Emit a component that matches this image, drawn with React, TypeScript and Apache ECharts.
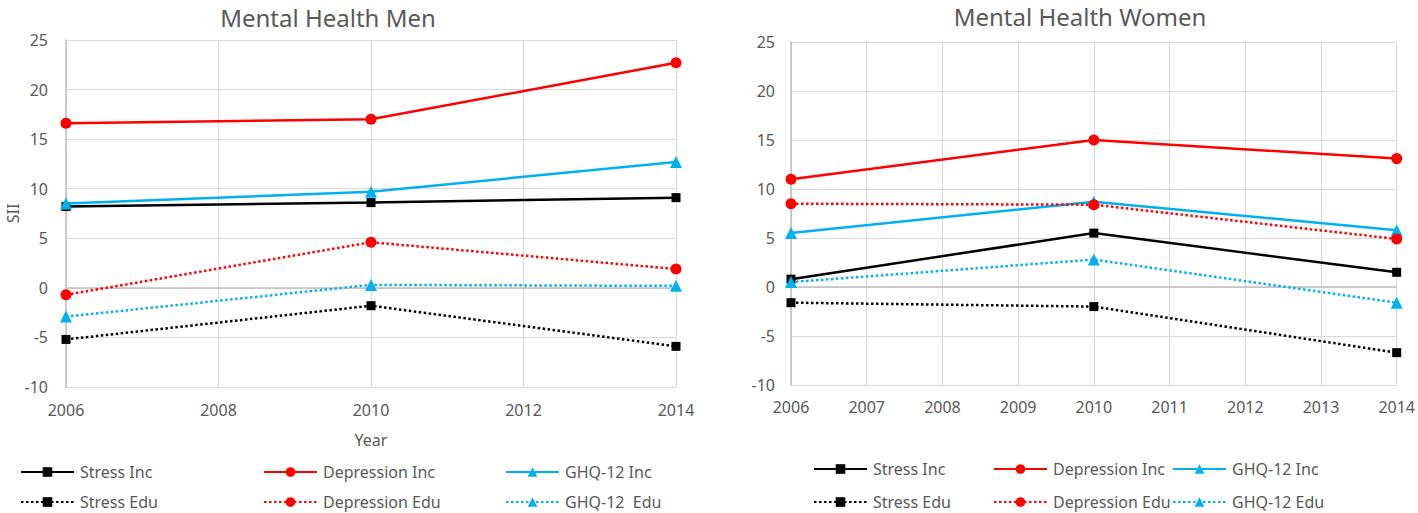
import React, { useEffect, useRef } from "react";
import * as echarts from "echarts";

const menYears = [2006, 2010, 2014];
const womenYears = [2006, 2010, 2014];

const menStressInc = [8.2, 8.6, 9.1];
const menDepressionInc = [16.6, 17.0, 22.7];
const menGhqInc = [8.5, 9.7, 12.7];
const menStressEdu = [-5.2, -1.8, -5.9];
const menDepressionEdu = [-0.7, 4.6, 1.9];
const menGhqEdu = [-2.9, 0.3, 0.2];

const womenStressInc = [0.8, 5.5, 1.5];
const womenDepressionInc = [11.0, 15.0, 13.1];
const womenGhqInc = [5.5, 8.7, 5.8];
const womenStressEdu = [-1.6, -2.0, -6.7];
const womenDepressionEdu = [8.5, 8.4, 4.9];
const womenGhqEdu = [0.5, 2.8, -1.6];

const seriesNames = ["Stress Inc", "Depression Inc", "GHQ-12 Inc", "Stress Edu", "Depression Edu", "GHQ-12  Edu"];
const womenSeriesNames = ["Stress Inc", "Depression Inc", "GHQ-12 Inc", "Stress Edu", "Depression Edu", "GHQ-12 Edu"];

const FONT = "Noto Sans";
const TXT = "#595959";
const GRIDC = "#d9d9d9";

export default function App() {
  const ref = useRef<HTMLDivElement>(null);
  useEffect(() => {
    const chart = echarts.init(ref.current!, null, { renderer: "svg" });
    const colors = ["#000000", "#ff0000", "#00b0f0", "#000000", "#ff0000", "#00b0f0"];
    const symbols = ["rect", "circle", "triangle", "rect", "circle", "triangle"];
    const symbolSizes = [9, 11, 12, 9, 11, 12];
    const menData = [menStressInc, menDepressionInc, menGhqInc, menStressEdu, menDepressionEdu, menGhqEdu];
    const womenData = [womenStressInc, womenDepressionInc, womenGhqInc, womenStressEdu, womenDepressionEdu, womenGhqEdu];

    const mk = (name: string, i: number, years: number[], vals: number[], idx: number) => ({
      type: "line",
      name,
      xAxisIndex: idx,
      yAxisIndex: idx,
      data: years.map((y, k) => [y, vals[k]]),
      symbol: symbols[i],
      symbolSize: symbolSizes[i],
      showAllSymbol: true,
      itemStyle: { color: colors[i] },
      lineStyle: { color: colors[i], width: 2.5, type: i >= 3 ? [2.5, 2.5] : "solid" },
      z: 3 + i,
      ...(i === 0
        ? {
            markLine: {
              silent: true,
              symbol: "none",
              label: { show: false },
              lineStyle: { color: "#bfbfbf", width: 1.5, type: "solid" },
              data: [{ yAxis: 0 }],
            },
          }
        : {}),
    });

    const series: any[] = [];
    seriesNames.forEach((n, i) => series.push(mk(n, i, menYears, menData[i], 0)));
    womenSeriesNames.forEach((n, i) => series.push(mk(n, i, womenYears, womenData[i], 1)));

    const axisLabel = { color: TXT, fontFamily: FONT, fontSize: 16 };
    const xAxisBase = (min: number, max: number, interval: number, margin: number) => ({
      type: "value",
      min,
      max,
      interval,
      axisLine: { show: true, lineStyle: { color: GRIDC, width: 1 } },
      axisTick: { show: false },
      splitLine: { show: true, lineStyle: { color: GRIDC, width: 1 } },
      axisLabel: { ...axisLabel, margin, formatter: (v: number) => String(v) },
    });
    const yAxisBase = (margin: number) => ({
      type: "value",
      min: -10,
      max: 25,
      interval: 5,
      axisLine: { show: true, lineStyle: { color: "#bfbfbf", width: 1.5 } },
      axisTick: { show: false },
      splitLine: { show: true, lineStyle: { color: GRIDC, width: 1 } },
      axisLabel: { ...axisLabel, margin },
    });

    const legendPos = [
      [20, 473], [263, 473], [505, 473],
      [20, 503], [263, 503], [505, 503],
    ];
    const legendPosW = [
      [813, 470], [993, 470], [1172, 470],
      [813, 503], [993, 503], [1172, 503],
    ];
    const legends: any[] = [];
    const mkLegend = (name: string, x: number, y: number) => ({
      data: [name],
      left: x,
      top: y - 9,
      orient: "horizontal",
      padding: 0,
      itemWidth: 53,
      itemHeight: 12,
      itemGap: 0,
      selectedMode: false,
      textStyle: { color: TXT, fontFamily: FONT, fontSize: 16, padding: [0, 0, 0, 1] },
    });
    seriesNames.forEach((n, i) => legends.push(mkLegend(n, legendPos[i][0], legendPos[i][1])));
    womenSeriesNames.forEach((n, i) => legends.push(mkLegend(n, legendPosW[i][0], legendPosW[i][1])));

    chart.setOption({
      animation: false,
      backgroundColor: "#ffffff",
      textStyle: { fontFamily: FONT },
      grid: [
        { left: 66, top: 40, width: 610, height: 347 },
        { left: 791, top: 42, width: 608, height: 343 },
      ],
      xAxis: [
        {
          ...xAxisBase(2006, 2014, 2, 15),
          gridIndex: 0,
          name: "Year",
          nameLocation: "middle",
          nameGap: 45,
          nameTextStyle: { color: TXT, fontFamily: FONT, fontSize: 16 },
        },
        { ...xAxisBase(2006, 2014, 1, 14), gridIndex: 1 },
      ],
      yAxis: [
        {
          ...yAxisBase(18),
          gridIndex: 0,
          name: "SII",
          nameLocation: "middle",
          nameGap: 44,
          nameTextStyle: { color: TXT, fontFamily: FONT, fontSize: 16 },
        },
        { ...yAxisBase(16), gridIndex: 1 },
      ],
      legend: legends,
      series,
      graphic: [
        {
          type: "text",
          x: 328,
          y: 17,
          style: {
            text: "Mental Health Men",
            fill: TXT,
            font: `24px "${FONT}"`,
            textAlign: "center",
            textVerticalAlign: "middle",
          },
        },
        {
          type: "text",
          x: 1080,
          y: 16,
          style: {
            text: "Mental Health Women",
            fill: TXT,
            font: `24px "${FONT}"`,
            textAlign: "center",
            textVerticalAlign: "middle",
          },
        },
      ],
    });
    return () => chart.dispose();
  }, []);
  return (
    <div
      ref={ref}
      style={{ position: "absolute", left: 0, top: 0, width: 1418, height: 513, background: "#fff" }}
    />
  );
}
